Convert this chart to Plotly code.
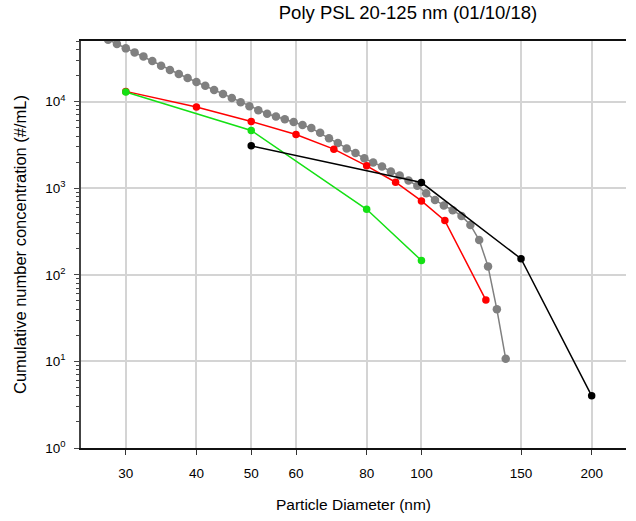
import math
import plotly.graph_objects as go

# ---- data ----
gray_d = [26.93, 27.92, 28.94, 30.00, 31.10, 32.24, 33.42, 34.64, 35.91, 37.23, 38.59,
          40.00, 41.47, 42.99, 44.57, 46.20, 47.89, 49.64, 51.46, 53.35, 55.30, 57.33,
          59.43, 61.61, 63.86, 66.20, 68.63, 71.14, 73.75, 76.45, 79.25, 82.15, 85.16,
          88.28, 91.52, 94.87, 98.34, 101.95, 105.68, 109.55, 113.56, 117.72, 122.04,
          126.51, 131.14, 135.95, 140.93]
gray_v = [58200, 51800, 46200, 41100, 36950, 33220, 29390, 25940, 23130, 20790, 18690,
          16800, 15230, 13620, 12210, 10980, 9815, 8824, 7912, 7228, 6708, 6258,
          5810, 5363, 4939, 4358, 3765, 3313, 2877, 2539, 2211, 1977, 1777,
          1555, 1399, 1224, 1063, 875, 732, 629, 557, 478, 376,
          252, 125, 39.9, 10.7]

red_d = [30, 40, 50, 60, 70, 80, 90, 100, 110, 130]
red_v = [13100, 8630, 5890, 4170, 2820, 1810, 1170, 713, 422, 51]

green_d = [30, 50, 80, 100]
green_v = [12900, 4640, 570, 146]

black_d = [50, 100, 150, 200]
black_v = [3080, 1160, 153, 4.0]

x_ticks = [30, 40, 50, 60, 80, 100, 150, 200]
y_ticks = [1, 10, 100, 1000, 10000]
y_ticktext = ["10<sup>0</sup>", "10<sup>1</sup>", "10<sup>2</sup>", "10<sup>3</sup>", "10<sup>4</sup>"]
y_minor = [m * 10 ** e for e in range(0, 5) for m in range(2, 10)]

title_text = "Poly PSL 20-125 nm (01/10/18)"
x_title = "Particle Diameter (nm)"
y_title = "Cumulative number concentration (#/mL)"

FONT = "Liberation Sans, Arial, sans-serif"

fig = go.Figure()

def add(d, v, color, msize):
    fig.add_trace(go.Scatter(x=d, y=v, mode="lines+markers",
                             line=dict(color=color, width=1.5),
                             marker=dict(color=color, size=msize),
                             showlegend=False))

add(gray_d, gray_v, "#808080", 8.5)
add(red_d, red_v, "#ff0000", 7.5)
add(green_d, green_v, "#14e014", 7.5)
add(black_d, black_v, "#000000", 7.5)

fig.update_layout(
    width=636, height=521,
    margin=dict(l=81, r=10, t=41, b=73),
    paper_bgcolor="white", plot_bgcolor="white",
    font=dict(family=FONT, size=13, color="#000"),
    title=dict(text=title_text, x=0.6, xref="paper", xanchor="center",
               y=1, yref="container", yanchor="top", pad=dict(t=6),
               font=dict(family=FONT, size=18.5, color="#000")),
)

fig.update_xaxes(
    type="log", range=[math.log10(25), math.log10(230)],
    tickvals=x_ticks, ticktext=[str(t) for t in x_ticks],
    ticks="outside", ticklen=5, tickcolor="#333", tickwidth=1,
    showgrid=True, gridcolor="#d4d4d4", gridwidth=1.5,
    showline=True, linecolor="#111", linewidth=1.5, mirror=True,
    ticklabelstandoff=7,
    title=dict(text=x_title, font=dict(family=FONT, size=15.5), standoff=19),
    tickfont=dict(family=FONT, size=13.5),
)

fig.update_yaxes(
    type="log", range=[0, math.log10(50000)],
    tickvals=y_ticks, ticktext=y_ticktext,
    ticks="outside", ticklen=5, tickcolor="#444", tickwidth=1,
    minor=dict(tickvals=y_minor, ticks="outside", ticklen=3, tickcolor="#444", showgrid=False),
    showgrid=True, gridcolor="#d4d4d4", gridwidth=1.5,
    showline=True, linecolor="#444", linewidth=1.5, mirror=False,
    ticklabelstandoff=6,
    title=dict(text=y_title, font=dict(family=FONT, size=16.5), standoff=14),
    tickfont=dict(family=FONT, size=13.5),
)

fig.write_html("out.html")
